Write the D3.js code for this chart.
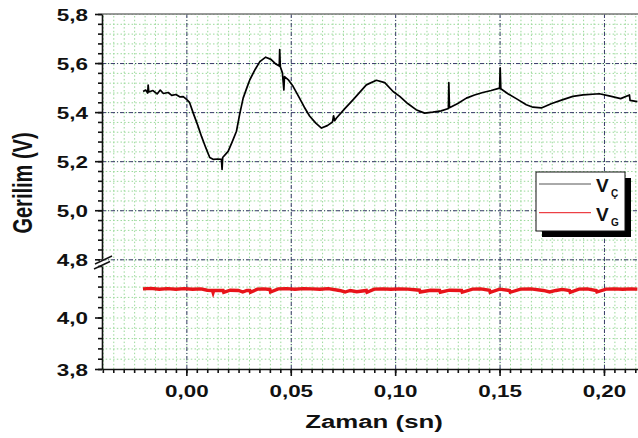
<!DOCTYPE html>
<html lang="tr">
<head>
    <meta charset="UTF-8">
    <title>Gerilim - Zaman</title>
    <style>
        body { margin: 0; padding: 0; background: #ffffff; }
        svg { display: block; }
        text { font-family: "Liberation Sans", Arial, sans-serif; font-weight: bold; fill: #111; }
        .grid-minor line { stroke: #9ad99a; stroke-width: 1; stroke-dasharray: 1.5,2.2; }
        .grid-major line { stroke: #3a3a6a; stroke-width: 1; stroke-dasharray: 4,2,1,2; }
        .grid-minor path, .grid-major path { display: none; }
        .axis path, .axis line { stroke: #111; stroke-width: 1.6; }
    </style>
</head>
<body>
    <svg id="chart" width="638" height="438"></svg>

    <script src="https://d3js.org/d3.v7.min.js"></script>
    <script>
        // V_C (cikis) - time in s, voltage in V
        var vcTime = [-0.0207, -0.0195, -0.0185, -0.0183, -0.018, -0.016, -0.014, -0.0125, -0.011, -0.0087,
            -0.007, -0.005, -0.003, -0.0015, 0.0001, 0.0015, 0.0033, 0.0053, 0.0073, 0.0093,
            0.0112, 0.013, 0.015, 0.0168, 0.0171, 0.0174, 0.02, 0.022, 0.024, 0.0255,
            0.0272, 0.029, 0.0304, 0.033, 0.0352, 0.038, 0.0405, 0.043, 0.0445, 0.0447,
            0.045, 0.046, 0.0467, 0.047, 0.049, 0.0511, 0.054, 0.0565, 0.0591, 0.062,
            0.0647, 0.0675, 0.07, 0.0705, 0.071, 0.0719, 0.076, 0.0798, 0.0862, 0.091,
            0.095, 0.099, 0.1022, 0.106, 0.11, 0.1141, 0.118, 0.122, 0.1255, 0.1257,
            0.126, 0.13, 0.1341, 0.138, 0.142, 0.146, 0.15, 0.1503, 0.1506, 0.154,
            0.158, 0.1628, 0.166, 0.17, 0.175, 0.18, 0.1851, 0.19, 0.1978, 0.203,
            0.208, 0.2122, 0.2125, 0.216];
        var vcVolt = [5.484, 5.49, 5.478, 5.51, 5.482, 5.488, 5.474, 5.49, 5.476, 5.48,
            5.468, 5.472, 5.462, 5.463, 5.452, 5.44, 5.396, 5.35, 5.30, 5.255,
            5.215, 5.207, 5.209, 5.207, 5.166, 5.215, 5.24, 5.28, 5.322, 5.39,
            5.457, 5.50, 5.532, 5.575, 5.606, 5.624, 5.615, 5.595, 5.588, 5.655,
            5.585, 5.56, 5.49, 5.545, 5.53, 5.505, 5.46, 5.42, 5.383, 5.355,
            5.335, 5.345, 5.36, 5.385, 5.365, 5.376, 5.415, 5.45, 5.511, 5.53,
            5.52, 5.484, 5.464, 5.435, 5.41, 5.396, 5.40, 5.405, 5.415, 5.52,
            5.418, 5.435, 5.457, 5.47, 5.48, 5.488, 5.498, 5.58, 5.495, 5.475,
            5.455, 5.43, 5.42, 5.417, 5.435, 5.45, 5.464, 5.47, 5.475, 5.465,
            5.455, 5.47, 5.448, 5.443];

        // V_G (giris)
        var vgTime = [-0.0208, -0.017, -0.013, -0.009, -0.005, -0.001, 0.003, 0.007, 0.010, 0.0125,
            0.0128, 0.0131, 0.016, 0.0176, 0.0179, 0.021, 0.025, 0.027, 0.029, 0.0304,
            0.0307, 0.034, 0.037, 0.040, 0.0403, 0.044, 0.048, 0.052, 0.056, 0.060,
            0.064, 0.068, 0.0734, 0.076, 0.0785, 0.0816, 0.0862, 0.0865, 0.09, 0.094,
            0.098, 0.102, 0.106, 0.1117, 0.112, 0.117, 0.1213, 0.1216, 0.126, 0.1318,
            0.1321, 0.137, 0.141, 0.1452, 0.1455, 0.15, 0.1548, 0.1551, 0.16, 0.165,
            0.171, 0.174, 0.177, 0.18, 0.1835, 0.1838, 0.188, 0.192, 0.1963, 0.1966,
            0.201, 0.205, 0.209, 0.213, 0.216];
        var vgVolt = [4.111, 4.113, 4.110, 4.112, 4.110, 4.112, 4.110, 4.111, 4.106, 4.105,
            4.097, 4.105, 4.105, 4.105, 4.098, 4.106, 4.105, 4.099, 4.105, 4.105,
            4.098, 4.110, 4.111, 4.109, 4.099, 4.111, 4.112, 4.110, 4.112, 4.111,
            4.110, 4.112, 4.105, 4.099, 4.105, 4.100, 4.105, 4.098, 4.110, 4.111,
            4.110, 4.111, 4.110, 4.106, 4.099, 4.106, 4.105, 4.098, 4.106, 4.105,
            4.098, 4.110, 4.111, 4.106, 4.098, 4.110, 4.105, 4.098, 4.110, 4.111,
            4.105, 4.099, 4.105, 4.109, 4.105, 4.098, 4.110, 4.111, 4.105, 4.099,
            4.110, 4.111, 4.110, 4.111, 4.110];

        var xTicks = [0, 0.05, 0.10, 0.15, 0.20];
        var yTicksUpper = [4.8, 5.0, 5.2, 5.4, 5.6, 5.8];
        var yTicksLower = [3.8, 4.0];
        var seriesNames = ['V', 'V'];
        var seriesSubs = ['\u00C7', 'G'];
        var seriesColors = ['#222222', '#e8141a'];

        // plot box (window.top is reserved, so use other names)
        var pL = 102, pR = 638, pT = 14, pB = 369;
        var stretch = 1.36; // the original picture is stretched horizontally

        var svg = d3.select('#chart');
        svg.append('rect').attr('width', 638).attr('height', 438).attr('fill', '#fff');

        var x = d3.scaleLinear().domain([-0.0404, 0.2163]).range([pL, pR]);
        var yUp = d3.scaleLinear().domain([4.8, 5.8]).range([259.3, pT]);
        var yLo = d3.scaleLinear().domain([3.8, 4.2]).range([pB, 266]);

        var nf = d3.formatLocale({ decimal: ',', thousands: '.', grouping: [3], currency: ['', ''] });
        var fx = nf.format('.2f'), fy = nf.format('.1f');

        var xMinor = d3.range(-0.04, 0.2165, 0.005);
        var upMinor = d3.range(4.8, 5.801, 0.04);
        var loMinor = d3.range(3.8, 4.201, 0.04);

        // grid lines
        svg.append('g').attr('class', 'grid-minor')
            .attr('transform', 'translate(0,' + pB + ')')
            .call(d3.axisBottom(x).tickValues(xMinor).tickSize(-(pB - pT)).tickFormat(''));
        svg.append('g').attr('class', 'grid-minor')
            .attr('transform', 'translate(' + pL + ',0)')
            .call(d3.axisLeft(yUp).tickValues(upMinor).tickSize(-(pR - pL)).tickFormat(''));
        svg.append('g').attr('class', 'grid-minor')
            .attr('transform', 'translate(' + pL + ',0)')
            .call(d3.axisLeft(yLo).tickValues(loMinor).tickSize(-(pR - pL)).tickFormat(''));
        svg.append('g').attr('class', 'grid-major')
            .attr('transform', 'translate(0,' + pB + ')')
            .call(d3.axisBottom(x).tickValues(xTicks).tickSize(-(pB - pT)).tickFormat(''));
        svg.append('g').attr('class', 'grid-major')
            .attr('transform', 'translate(' + pL + ',0)')
            .call(d3.axisLeft(yUp).tickValues(yTicksUpper.slice(0, -1)).tickSize(-(pR - pL)).tickFormat(''));

        // top frame
        svg.append('line').attr('x1', pL).attr('x2', pR).attr('y1', pT).attr('y2', pT)
            .attr('stroke', '#777').attr('stroke-width', 1.5);

        // data lines
        var lineUp = d3.line().x(d => x(d[0])).y(d => yUp(d[1]));
        var lineLo = d3.line().x(d => x(d[0])).y(d => yLo(d[1]));

        svg.append('path')
            .datum(vgTime.map((t, i) => [t, vgVolt[i]]))
            .attr('d', lineLo)
            .attr('fill', 'none')
            .attr('stroke', seriesColors[1])
            .attr('stroke-width', 3.4);

        svg.append('path')
            .datum(vcTime.map((t, i) => [t, vcVolt[i]]))
            .attr('d', lineUp)
            .attr('fill', 'none')
            .attr('stroke', '#000')
            .attr('stroke-width', 1.7)
            .attr('stroke-linejoin', 'round');

        // axes
        svg.append('g').attr('class', 'axis')
            .attr('transform', 'translate(0,' + pB + ')')
            .call(d3.axisBottom(x).tickValues(xMinor).tickSize(4).tickSizeOuter(0).tickFormat(''));
        var axMaj = svg.append('g').attr('class', 'axis')
            .attr('transform', 'translate(0,' + pB + ')')
            .call(d3.axisBottom(x).tickValues(xTicks).tickSize(7).tickSizeOuter(0).tickFormat(fx));
        axMaj.select('.domain').remove();
        axMaj.selectAll('text')
            .attr('y', 0).attr('dy', 0)
            .attr('transform', 'translate(0,28) scale(' + stretch + ',1)')
            .style('font-size', '16.5px');

        function yAxis(scale, minor, major) {
            svg.append('g').attr('class', 'axis')
                .attr('transform', 'translate(' + pL + ',0)')
                .call(d3.axisLeft(scale).tickValues(minor).tickSize(4).tickSizeOuter(0).tickFormat(''));
            var g2 = svg.append('g').attr('class', 'axis')
                .attr('transform', 'translate(' + pL + ',0)')
                .call(d3.axisLeft(scale).tickValues(major).tickSize(7).tickSizeOuter(0).tickFormat(fy));
            g2.select('.domain').remove();
            g2.selectAll('text')
                .attr('x', 0).attr('dy', 0)
                .attr('transform', 'translate(-14,6) scale(' + stretch + ',1)')
                .style('font-size', '16.5px');
        }
        yAxis(yUp, upMinor, yTicksUpper);
        yAxis(yLo, loMinor, yTicksLower);

        // axis break mark
        svg.append('rect').attr('x', pL - 2).attr('y', 259.8).attr('width', 4).attr('height', 5.6).attr('fill', '#fff');
        svg.append('line').attr('x1', 95).attr('y1', 264).attr('x2', 112).attr('y2', 256)
            .attr('stroke', '#111').attr('stroke-width', 1.4);
        svg.append('line').attr('x1', 94).attr('y1', 269).attr('x2', 110).attr('y2', 261.5)
            .attr('stroke', '#111').attr('stroke-width', 1.4);

        // axis titles
        svg.append('text')
            .attr('transform', 'translate(374,428) scale(' + stretch + ',1)')
            .style('text-anchor', 'middle')
            .style('font-size', '19px')
            .text('Zaman (sn)');
        svg.append('text')
            .attr('transform', 'translate(32,183) scale(' + stretch + ',1) rotate(-90)')
            .style('text-anchor', 'middle')
            .style('font-size', '20px')
            .text('Gerilim (V)');

        // legend
        var lg = svg.append('g').attr('transform', 'translate(536,172)');
        lg.append('rect').attr('x', 6).attr('y', 6).attr('width', 89).attr('height', 59).attr('fill', '#000');
        lg.append('rect').attr('x', 0).attr('y', 0).attr('width', 89).attr('height', 59)
            .attr('fill', '#fff').attr('stroke', '#111').attr('stroke-width', 1);
        var item = lg.selectAll('.item')
            .data(seriesNames)
            .enter().append('g')
            .attr('class', 'item')
            .attr('transform', (d, i) => 'translate(0,' + (12 + i * 28.7) + ')');
        item.append('line').attr('x1', 3).attr('x2', 55).attr('y1', 0).attr('y2', 0)
            .attr('stroke', (d, i) => i === 0 ? '#555' : seriesColors[1]).attr('stroke-width', 1);
        item.append('text').attr('x', 60).attr('y', 8).style('font-size', '19px').text(d => d);
        item.append('text').attr('x', 75).attr('y', 13).style('font-size', '10px').text((d, i) => seriesSubs[i]);
    </script>
</body>
</html>
